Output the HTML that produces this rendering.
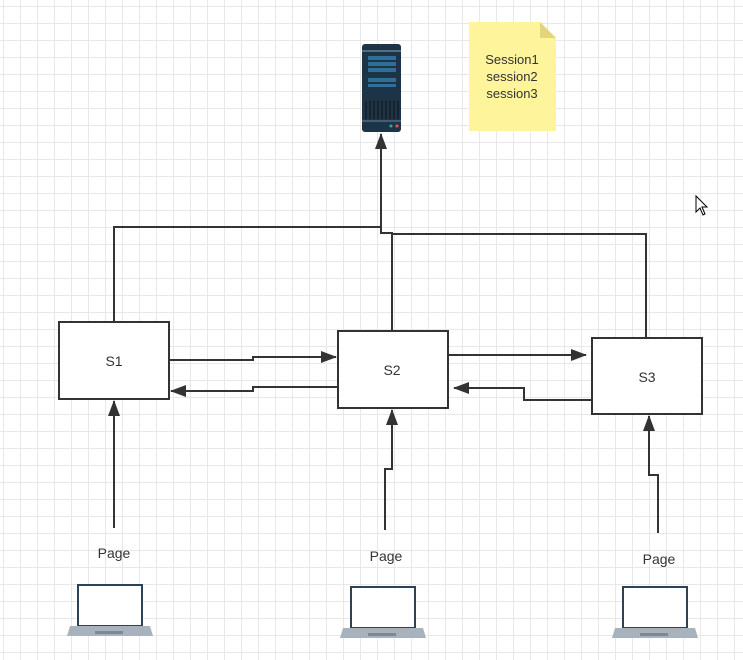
<!DOCTYPE html>
<html><head><meta charset="utf-8"><style>
html,body{margin:0;padding:0;background:#fff}
body{width:743px;height:660px;overflow:hidden;position:relative;
background-image:linear-gradient(#e8e8e8 1px,transparent 1px),linear-gradient(90deg,#e8e8e8 1px,transparent 1px);
background-size:17px 17px;background-position:3px 6px}
svg{position:absolute;left:0;top:0}
text{font-family:"Liberation Sans",sans-serif;fill:#333}
</style></head><body>
<svg width="743" height="660" viewBox="0 0 743 660">
<defs>
<marker id="b" markerWidth="16" markerHeight="12" refX="15" refY="6" orient="auto" markerUnits="userSpaceOnUse">
<path d="M0,0 L16,6 L0,12 Z" fill="#333"/></marker></defs>
<g fill="none" stroke="#333" stroke-width="2">
<polyline points="114,322 114,227 381,227 381,134" marker-end="url(#b)"/>
<polyline points="381,227 381,233 392,233 392,331"/>
<polyline points="392,234 646,234 646,338"/>
<polyline points="169,360 253,360 253,357 336,357" marker-end="url(#b)"/>
<polyline points="338,387 253,387 253,391 171,391" marker-end="url(#b)"/>
<polyline points="448,355 586,355" marker-end="url(#b)"/>
<polyline points="592,400 524,400 524,388 454,388" marker-end="url(#b)"/>
<polyline points="114,528 114,401" marker-end="url(#b)"/>
<polyline points="385,530 385,469 392,469 392,410" marker-end="url(#b)"/>
<polyline points="658,533 658,475 649,475 649,416" marker-end="url(#b)"/>
</g>
<g fill="#fff" stroke="#333" stroke-width="2">
<rect x="59" y="322" width="110" height="77"/>
<rect x="338" y="331" width="110" height="77"/>
<rect x="592" y="338" width="110" height="76"/>
</g>
<text x="114" y="366" font-size="14" text-anchor="middle">S1</text>
<text x="392" y="375" font-size="14" text-anchor="middle">S2</text>
<text x="647" y="382" font-size="14" text-anchor="middle">S3</text>
<text x="114" y="558" font-size="14" text-anchor="middle">Page</text>
<text x="386" y="561" font-size="14" text-anchor="middle">Page</text>
<text x="659" y="564" font-size="14" text-anchor="middle">Page</text>
<path d="M469,22 L540,22 L556,38 L556,131 L469,131 Z" fill="#fdf49c"/>
<path d="M540,22 L556,38 L540,38 Z" fill="#e2d57a"/>
<text x="512" y="64" font-size="13" text-anchor="middle">Session1</text>
<text x="512" y="81" font-size="13" text-anchor="middle">session2</text>
<text x="512" y="98" font-size="13" text-anchor="middle">session3</text>
<rect x="362" y="44" width="39" height="88" rx="3" fill="#1d3347"/>
<line x1="362" y1="51" x2="401" y2="51" stroke="#8aa" stroke-width="1"/>
<g fill="#2f6f9a"><rect x="368" y="56" width="28" height="4"/><rect x="368" y="62" width="28" height="4"/><rect x="368" y="68" width="28" height="4"/><rect x="368" y="78" width="28" height="4"/><rect x="368" y="84" width="28" height="3"/></g>
<rect x="365" y="101" width="34" height="18" fill="#14232f"/>
<g stroke="#2c4456" stroke-width="1"><line x1="368" y1="101" x2="368" y2="119"/><line x1="372" y1="101" x2="372" y2="119"/><line x1="376" y1="101" x2="376" y2="119"/><line x1="380" y1="101" x2="380" y2="119"/><line x1="384" y1="101" x2="384" y2="119"/><line x1="388" y1="101" x2="388" y2="119"/><line x1="392" y1="101" x2="392" y2="119"/><line x1="396" y1="101" x2="396" y2="119"/></g>
<line x1="362" y1="121" x2="401" y2="121" stroke="#6f8a9c"/>
<circle cx="391" cy="126" r="1.5" fill="#3a9"/><circle cx="397" cy="126" r="1.5" fill="#e55"/>
<g id="lp">
<rect x="77" y="584" width="66" height="42" fill="#2d4254"/>
<rect x="79" y="586" width="62" height="39" fill="#fff"/>
<path d="M70,626 L150,626 L153,636 L67,636 Z" fill="#a7b2bd"/>
<rect x="95" y="631" width="28" height="3" fill="#7d8893"/>
</g>
<use href="#lp" x="273" y="2"/>
<use href="#lp" x="545" y="2"/>
<path d="M696,196 L696,212 L700,208 L703,215 L705,214 L702,207 L707,207 Z" fill="#fff" stroke="#000" stroke-width="1"/>
</svg>
</body></html>
